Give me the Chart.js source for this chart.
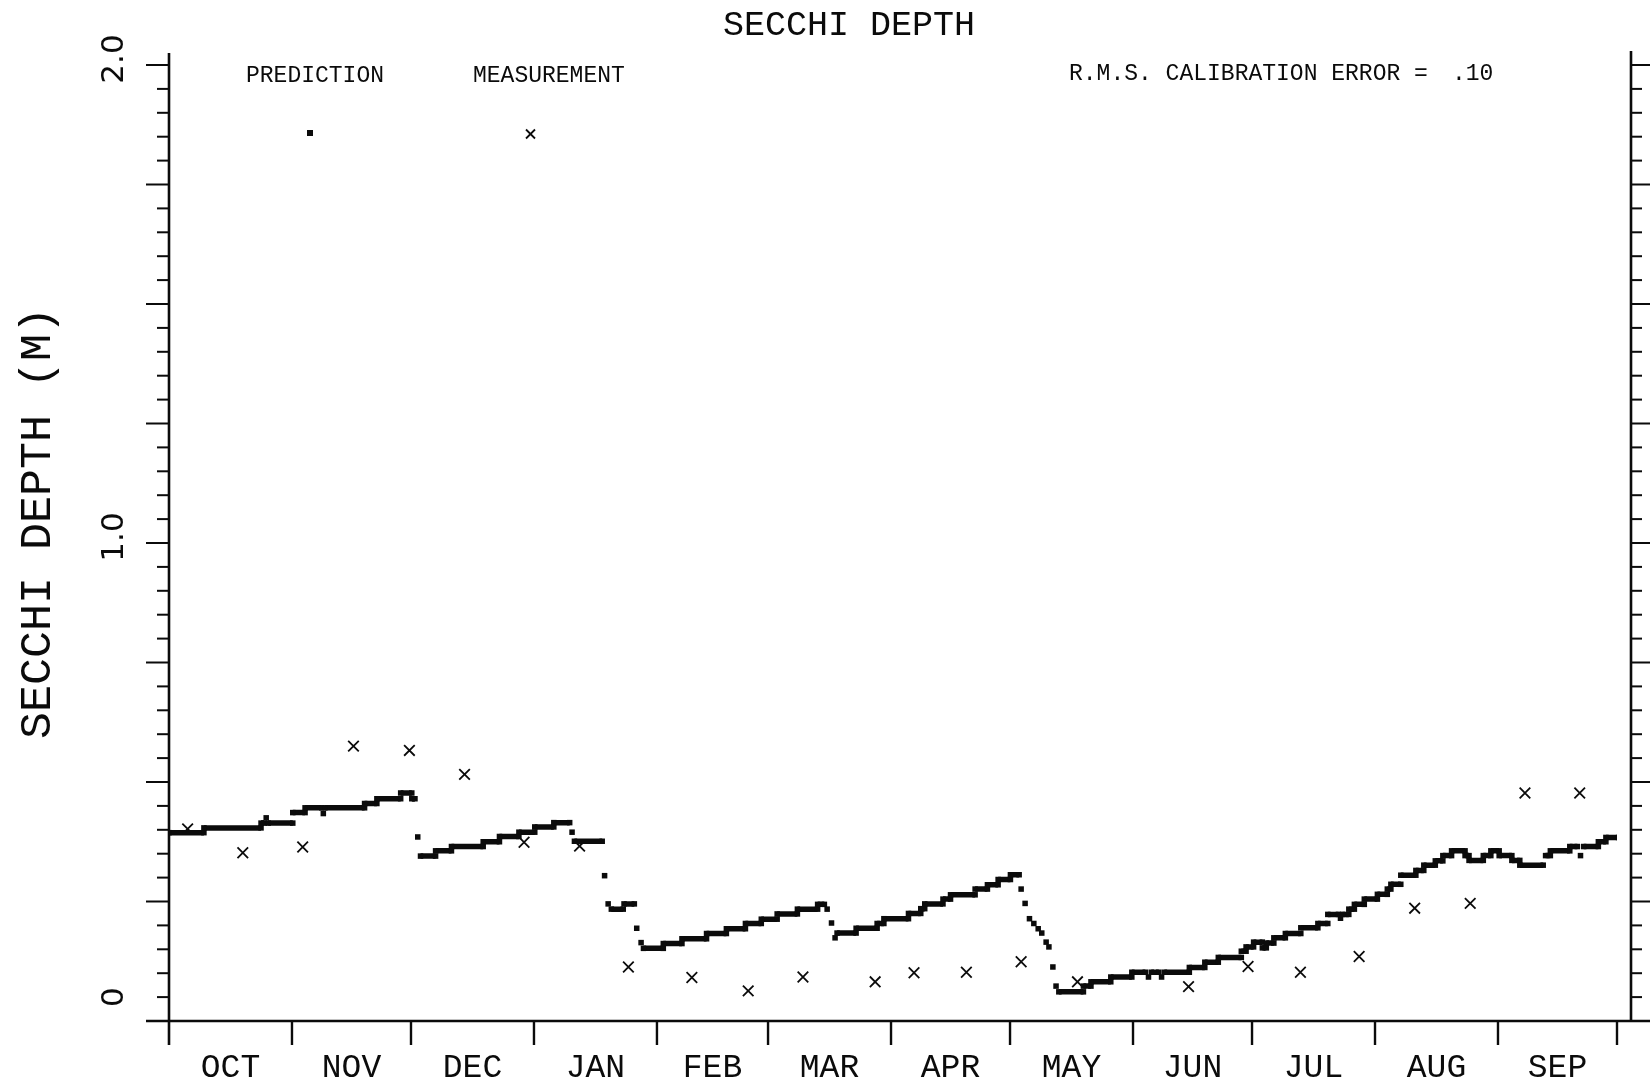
<!DOCTYPE html>
<html>
<head>
<meta charset="utf-8">
<title>Secchi Depth</title>
<script src="https://cdn.jsdelivr.net/npm/chart.js@4/dist/chart.umd.min.js"></script>
<style>
  html, body { margin: 0; padding: 0; background: #fff; }
  canvas { display: block; }
</style>
</head>
<body>
<canvas id="chart" width="1650" height="1087"></canvas>
<script>
// Water year, day 0 = 1 October.
const MONTHS = ['OCT', 'NOV', 'DEC', 'JAN', 'FEB', 'MAR', 'APR', 'MAY', 'JUN', 'JUL', 'AUG', 'SEP'];
const MONTH_START_DAY = [0, 31, 61, 92, 123, 151, 182, 212, 243, 273, 304, 335, 365];

// Model prediction, stored as runs of constant depth (m): first day, last day, depth.
const PRED_FIRST_DAY = [
  0, 8.8, 23.2, 24.5, 25.0, 31.2, 34.3, 38.9, 39.3, 49.3, 52.4, 58.4, 61.2, 62.7,
  63.4, 67.2, 71.2, 79.2, 83.3, 88.2, 92.2, 97.0, 101.6, 102.2, 109.8, 110.7, 111.5,
  114.7, 117.9, 119.0, 119.6, 124.6, 129.3, 135.5, 140.5, 145.3, 149.3, 153.3, 158.4,
  163.5, 165.9, 167.0, 167.9, 168.4, 173.2, 178.5, 180.2, 186.4, 189.5, 190.5, 195.1,
  197.0, 203.2, 206.3, 209.0, 212.1, 214.8, 215.8, 216.9, 218.0, 219.1, 220.0, 221.1,
  221.8, 222.8, 223.6, 224.3, 230.5, 232.4, 237.4, 242.7, 246.9, 247.6, 250.2, 250.9,
  257.2, 261.1, 264.5, 270.3, 271.5, 273.4, 275.6, 276.6, 278.5, 281.4, 285.3, 289.6,
  292.1, 295.3, 295.8, 297.4, 298.8, 301.3, 304.6, 307.1, 308.0, 310.5, 314.3, 316.3,
  319.2, 321.1, 323.3, 326.7, 327.7, 331.3, 333.2, 335.3, 338.5, 340.5, 347.0, 348.2,
  353.1, 355.8, 356.6, 360.3, 362.2
];
const PRED_LAST_DAY = [
  8.8, 23.2, 24.0, 24.5, 31.2, 34.3, 38.5, 38.9, 49.3, 52.4, 58.4, 61.2, 62.0, 62.7,
  67.2, 71.2, 79.2, 83.3, 88.2, 92.2, 97.0, 101.0, 101.6, 109.2, 109.8, 110.7, 114.5,
  117.3, 117.9, 119.0, 124.6, 129.3, 135.5, 140.5, 145.3, 149.3, 153.3, 158.4, 163.5,
  165.2, 165.9, 167.0, 167.9, 173.2, 178.5, 180.2, 186.4, 189.5, 190.5, 195.1, 197.0,
  203.2, 206.3, 209.0, 212.1, 214.3, 214.8, 215.8, 216.9, 218.0, 219.1, 220.0, 221.1,
  221.8, 222.8, 223.6, 230.5, 232.4, 237.4, 242.7, 246.1, 246.9, 249.5, 250.2, 257.2,
  261.1, 264.5, 270.3, 271.5, 273.4, 275.6, 276.6, 278.5, 281.4, 285.3, 289.6, 292.1,
  294.8, 295.3, 297.4, 298.8, 301.3, 304.6, 307.1, 308.0, 310.5, 314.3, 316.3, 319.2,
  321.1, 323.3, 326.7, 327.7, 331.3, 333.2, 335.3, 338.5, 340.5, 346.4, 348.2, 353.1,
  355.0, 355.8, 360.3, 362.2, 365.4
];
const PRED_DEPTH = [
  0.394, 0.404, 0.414, 0.425, 0.414, 0.436, 0.446, 0.434, 0.446, 0.455, 0.465, 0.477, 0.465, 0.385,
  0.345, 0.356, 0.365, 0.375, 0.386, 0.395, 0.406, 0.415, 0.395, 0.376, 0.304, 0.245, 0.234,
  0.245, 0.194, 0.164, 0.152, 0.162, 0.172, 0.183, 0.193, 0.204, 0.213, 0.224, 0.234,
  0.244, 0.234, 0.205, 0.174, 0.184, 0.194, 0.204, 0.214, 0.225, 0.235, 0.245, 0.255,
  0.264, 0.276, 0.285, 0.296, 0.306, 0.276, 0.246, 0.214, 0.204, 0.193, 0.184, 0.165,
  0.155, 0.113, 0.073, 0.061, 0.073, 0.082, 0.092, 0.102, 0.092, 0.102, 0.092, 0.102,
  0.112, 0.123, 0.133, 0.146, 0.155, 0.165, 0.153, 0.163, 0.174, 0.183, 0.195, 0.204,
  0.223, 0.215, 0.223, 0.234, 0.244, 0.255, 0.265, 0.276, 0.286, 0.305, 0.315, 0.326,
  0.335, 0.346, 0.356, 0.346, 0.336, 0.346, 0.356, 0.346, 0.336, 0.326, 0.346, 0.356,
  0.365, 0.346, 0.365, 0.375, 0.384
];

// Field measurements.
const MEAS_DAY = [4.7, 18.6, 33.7, 46.5, 60.6, 74.5, 89.5, 103.5, 115.8, 131.8, 146.0, 159.8,
  178.0, 187.8, 201.0, 214.8, 229.0, 257.0, 272.0, 285.2, 300.0, 314.0, 328.0, 341.8, 355.6];
const MEAS_DEPTH = [0.402, 0.352, 0.364, 0.575, 0.566, 0.516, 0.374, 0.366, 0.113, 0.091, 0.063, 0.092,
  0.082, 0.101, 0.102, 0.124, 0.082, 0.072, 0.114, 0.102, 0.135, 0.236, 0.246, 0.477, 0.477];

const Y_LABEL_VALUES = [2.0, 1.0, 0];
const Y_LABELS = ['2.0', '1.0', '0'];
const RMS_ERROR = '.10';

// Each run becomes a horizontal stroke; a null point ends it.
const predPoints = [];
PRED_FIRST_DAY.forEach((d0, i) => {
  const d1 = PRED_LAST_DAY[i];
  predPoints.push({ x: d0, y: PRED_DEPTH[i] });
  if (d1 > d0) predPoints.push({ x: d1, y: PRED_DEPTH[i] });
  predPoints.push({ x: d1, y: null });
});
const measPoints = MEAS_DAY.map((d, i) => ({ x: d, y: MEAS_DEPTH[i] }));

const INK = '#0b0b0b';
const FONT = '"Liberation Mono", "DejaVu Sans Mono", monospace';
const DIGIT_FONT = '"DejaVu Sans", "Liberation Sans", sans-serif';

function text(ctx, str, x, y, size, align, rot, family) {
  ctx.save();
  ctx.translate(x, y);
  if (rot) ctx.rotate(rot);
  ctx.font = size + 'px ' + (family || FONT);
  ctx.textAlign = align || 'center';
  ctx.textBaseline = 'middle';
  ctx.fillStyle = INK;
  ctx.fillText(str, 0, 0);
  ctx.restore();
}

function line(ctx, x1, y1, x2, y2) {
  ctx.beginPath();
  ctx.moveTo(x1, y1);
  ctx.lineTo(x2, y2);
  ctx.stroke();
}

// Plotter-style frame: axes with outside ticks on both sides, month ticks, lettering.
const plotterFrame = {
  id: 'plotterFrame',
  beforeDatasetsDraw(chart) {
    const { ctx, chartArea, scales: { x, y } } = chart;
    const xL = x.getPixelForValue(0);
    const yB = y.getPixelForValue(0);
    const yT = y.getPixelForValue(2);
    const xR = chartArea.right + 14;

    ctx.save();
    ctx.strokeStyle = INK;
    ctx.lineCap = 'butt';

    // axis lines
    ctx.lineWidth = 2.6;
    line(ctx, xL, yT - 12, xL, yB + 24);
    line(ctx, xR, yT - 14, xR, yB);
    line(ctx, xL - 23, yB, chart.width, yB);

    // depth ticks every 0.05 m, longer every 0.25 m
    ctx.lineWidth = 2;
    for (let k = 1; k <= 40; k++) {
      const py = y.getPixelForValue(k * 0.05);
      const major = k % 5 === 0;
      line(ctx, xL - (major ? 23 : 12), py, xL, py);
      line(ctx, xR, py, xR + (major ? 22 : 11), py);
    }

    // month boundaries
    ctx.lineWidth = 2.4;
    MONTH_START_DAY.slice(1).forEach(d => {
      const px = x.getPixelForValue(d);
      line(ctx, px, yB, px, yB + 24);
    });
    ctx.restore();

    // month names centred in each month
    MONTHS.forEach((m, i) => {
      const mid = (MONTH_START_DAY[i] + MONTH_START_DAY[i + 1]) / 2;
      text(ctx, m, x.getPixelForValue(mid), yB + 47, 33, 'center');
    });

    // depth labels, turned to read upward; the zero sits one tick up, clear of the time axis
    Y_LABEL_VALUES.forEach((v, i) => {
      let py = y.getPixelForValue(v) - 6;
      if (v === 0) py = y.getPixelForValue(0.05);
      text(ctx, Y_LABELS[i], xL - 54, py, 31, 'center', -Math.PI / 2, DIGIT_FONT);
    });

    text(ctx, 'SECCHI DEPTH (M)', 38, 523, 45, 'center', -Math.PI / 2);
    text(ctx, 'SECCHI DEPTH', 849, 26, 35, 'center');

    // key
    text(ctx, 'PREDICTION', 246, 76, 23, 'left');
    text(ctx, 'MEASUREMENT', 473, 76, 23, 'left');
    ctx.save();
    ctx.fillStyle = INK;
    ctx.fillRect(310 - 3, 133 - 3, 6, 6);
    ctx.strokeStyle = INK;
    ctx.lineWidth = 1.8;
    line(ctx, 526, 129.5, 535, 138.5);
    line(ctx, 526, 138.5, 535, 129.5);
    ctx.restore();

    text(ctx, 'R.M.S. CALIBRATION ERROR =', 1069, 74, 23, 'left');
    text(ctx, RMS_ERROR, 1452, 74, 23, 'left');
  }
};

new Chart(document.getElementById('chart').getContext('2d'), {
  type: 'line',
  data: {
    datasets: [
      {
        label: 'PREDICTION',
        data: predPoints,
        borderColor: INK,
        backgroundColor: INK,
        borderWidth: 5.5,
        borderCapStyle: 'butt',
        tension: 0,
        spanGaps: false,
        pointStyle: 'rect',
        pointRadius: 3.9,
        pointBorderWidth: 0,
        pointBackgroundColor: INK
      },
      {
        label: 'MEASUREMENT',
        data: measPoints,
        showLine: false,
        pointStyle: 'crossRot',
        pointRadius: 7.5,
        pointBorderWidth: 1.8,
        pointBorderColor: INK,
        borderColor: INK
      }
    ]
  },
  options: {
    responsive: false,
    animation: false,
    devicePixelRatio: 1,
    layout: { padding: { left: 169, right: 33, top: 65, bottom: 66 } },
    scales: {
      x: { type: 'linear', min: 0, max: 365, display: false },
      y: { type: 'linear', min: 0, max: 2, display: false }
    },
    plugins: {
      legend: { display: false },
      tooltip: { enabled: false },
      title: { display: false }
    }
  },
  plugins: [plotterFrame]
});
</script>
</body>
</html>
